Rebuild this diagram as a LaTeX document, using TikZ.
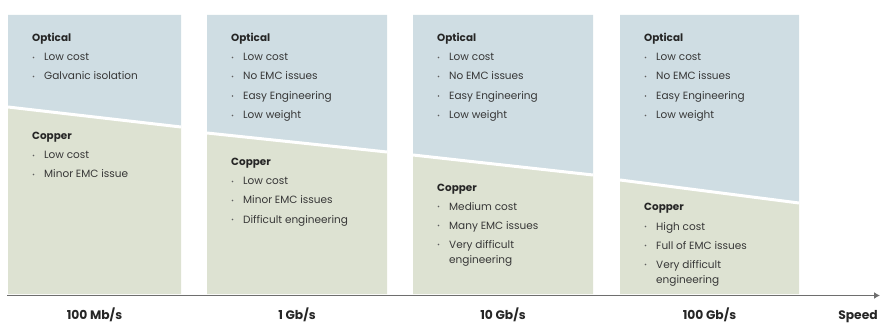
\documentclass[tikz,border=0pt]{standalone}
\usepackage{fontspec}
\setmainfont{Poppins}
\usetikzlibrary{arrows.meta}
\definecolor{optblue}{RGB}{207,221,227}
\definecolor{copgreen}{RGB}{221,226,210}
\definecolor{txtgray}{RGB}{55,55,55}
\definecolor{axisgray}{RGB}{110,110,110}
\tikzset{
  item/.style={anchor=base west, inner sep=0pt, text=txtgray, font=\fontsize{10.5}{12}\selectfont},
  head/.style={anchor=base west, inner sep=0pt, text=black!85, font=\fontsize{10.4}{12}\selectfont\bfseries},
  speedlbl/.style={anchor=base, inner sep=0pt, text=black!85, font=\fontsize{12.3}{14}\selectfont\bfseries},
  dotmark/.style={fill=txtgray!80},
  sep/.style={white, line width=3pt},
}
\newcommand\mypanel[4]{% x0 x1 yl yr
  \fill[optblue] (#1,15) -- (#2,15) -- (#2,#4) -- (#1,#3) -- cycle;
  \fill[copgreen] (#1,#3) -- (#2,#4) -- (#2,294) -- (#1,294) -- cycle;
  \draw[sep] (#1,#3) -- (#2,#4);
}
\newcommand\myhead[4]{\node[head] (#1) at (#2+24,#3+4) {#4};}
\newcommand\mybul[4]{\fill[dotmark] (#2+25.5,#3+0.5) circle (0.9);
  \node[item] (#1) at (#2+36,#3+4) {#4};}
\newcommand\mycont[4]{\node[item] (#1) at (#2+36,#3+4) {#4};}
\begin{document}
\begin{tikzpicture}[x=1pt,y=-1pt]
\useasboundingbox (0,0) rectangle (880,323);
% panels
\mypanel{8}{181}{107}{127}
\mypanel{207}{387}{133}{152}
\mypanel{413}{593}{155}{175}
\mypanel{620}{799}{180}{203}
% panel 1
\myhead{o1}{8}{38}{Optical}
\mybul{o1a}{8}{57}{Low cost}
\mybul{o1b}{8}{76}{Galvanic isolation}
\myhead{c1}{8}{136}{Copper}
\mybul{c1a}{8}{155}{Low cost}
\mybul{c1b}{8}{174}{Minor EMC issue}
% panel 2
\myhead{o2}{207}{38}{Optical}
\mybul{o2a}{207}{57}{Low cost}
\mybul{o2b}{207}{76}{No EMC issues}
\mybul{o2c}{207}{95.5}{Easy Engineering}
\mybul{o2d}{207}{115}{Low weight}
\myhead{c2}{207}{162}{Copper}
\mybul{c2a}{207}{181}{Low cost}
\mybul{c2b}{207}{200}{Minor EMC issues}
\mybul{c2c}{207}{219}{Difficult engineering}
% panel 3
\myhead{o3}{413}{38}{Optical}
\mybul{o3a}{413}{57}{Low cost}
\mybul{o3b}{413}{76}{No EMC issues}
\mybul{o3c}{413}{95.5}{Easy Engineering}
\mybul{o3d}{413}{115}{Low weight}
\myhead{c3}{413}{187}{Copper}
\mybul{c3a}{413}{206}{Medium cost}
\mybul{c3b}{413}{225}{Many EMC issues}
\mybul{c3c}{413}{244}{Very difficult}
\mycont{c3d}{413}{259}{engineering}
% panel 4
\myhead{o4}{620}{38}{Optical}
\mybul{o4a}{620}{57}{Low cost}
\mybul{o4b}{620}{76}{No EMC issues}
\mybul{o4c}{620}{95.5}{Easy Engineering}
\mybul{o4d}{620}{115}{Low weight}
\myhead{c4}{620}{207}{Copper}
\mybul{c4a}{620}{226}{High cost}
\mybul{c4b}{620}{245}{Full of EMC issues}
\mybul{c4c}{620}{264}{Very difficult}
\mycont{c4d}{620}{279}{engineering}
% axis
\coordinate (axL) at (7,295.5);
\coordinate (axR) at (880,295.5);
\draw[axisgray, line width=1.8pt, -{Latex[length=6pt,width=7pt]}] (axL) -- (axR);
\node[speedlbl] (s1) at (94.5,319.5) {100 Mb/s};
\node[speedlbl] (s2) at (297,319.5) {1 Gb/s};
\node[speedlbl] (s3) at (503,319.5) {10 Gb/s};
\node[speedlbl] (s4) at (709.5,319.5) {100 Gb/s};
\node[speedlbl] (s5) at (858,319.5) {Speed};
\end{tikzpicture}
\end{document}
